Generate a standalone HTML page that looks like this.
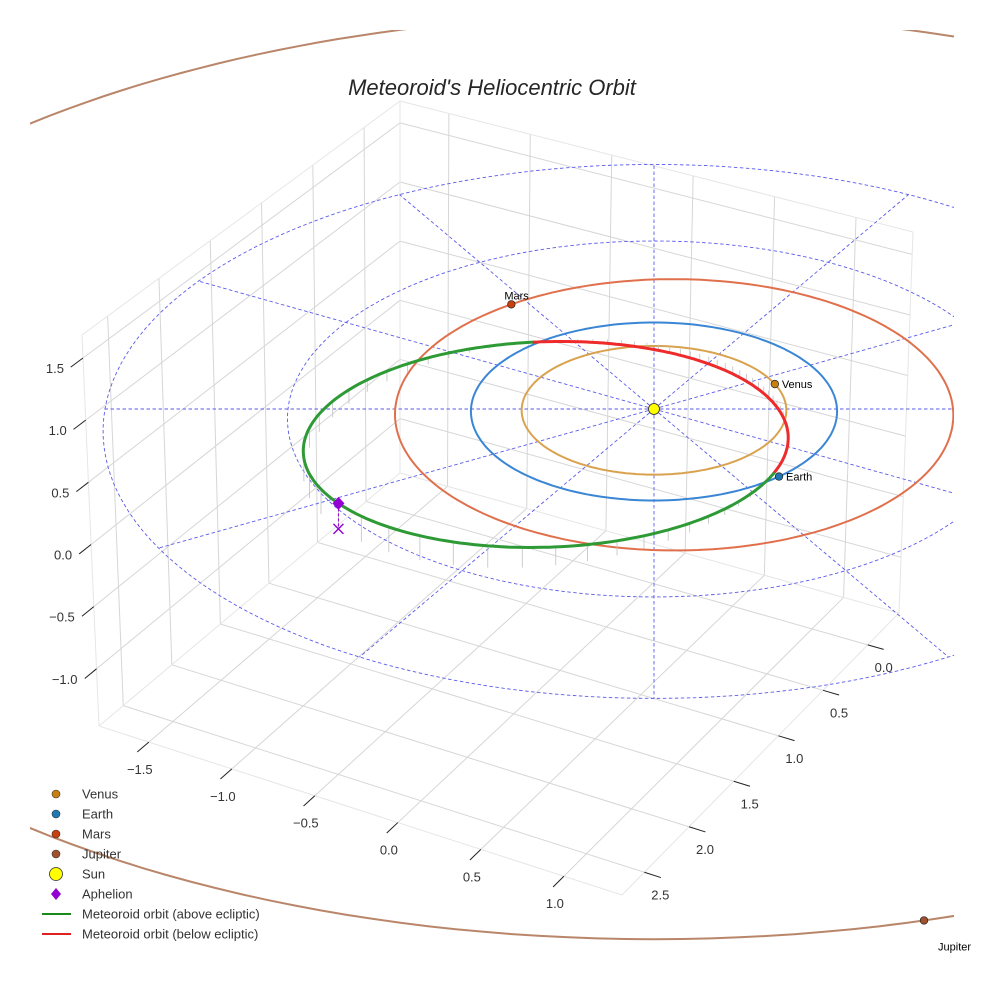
<!DOCTYPE html>
<html><head><meta charset="utf-8"><style>
html,body{margin:0;padding:0;background:#fff;}
svg{display:block;font-family:"Liberation Sans",sans-serif;}
</style></head><body>
<svg id="chart" width="984" height="984" viewBox="0 0 984 984" xmlns="http://www.w3.org/2000/svg">
<defs><clipPath id="clip"><rect x="30" y="30" width="924" height="924"/></clipPath></defs>
<rect width="984" height="984" fill="#fff"/>
<g id="grid"></g>
<g id="ticks"></g>
<g id="plot" clip-path="url(#clip)"></g>
<g id="labels"></g>
<text x="492" y="95" text-anchor="middle" font-size="22" font-style="italic" fill="#262626">Meteoroid's Heliocentric Orbit</text>
<g id="legend"></g>
</svg>
<script>
// ---- data ----
const planetNames = ["Venus","Earth","Mars","Jupiter"];
const planetRadius = [0.723, 1.0, 1.524, 5.2];
const planetAngleDeg = [-23, 48, -127, 75.6];
const orbitCenterX = [0, 0, 0.11, 0];
const guideRadii = [2, 3];
const guideSpokesDeg = [0,30,60,90,120,150,180,210,240,270,300,330];
const meteorA = 1.38, meteorE = 0.53, meteorAphelionDeg = 142, meteorNodeDeg = 48, meteorInclDeg = 5.4;
const xTicks = [-1.5,-1.0,-0.5,0.0,0.5,1.0];
const yTicks = [0.0,0.5,1.0,1.5,2.0,2.5];
const zTicks = [-1.0,-0.5,0.0,0.5,1.0,1.5];
const xTickLabels = ["\u22121.5","\u22121.0","\u22120.5","0.0","0.5","1.0"];
const yTickLabels = ["0.0","0.5","1.0","1.5","2.0","2.5"];
const zTickLabels = ["\u22121.0","\u22120.5","0.0","0.5","1.0","1.5"];

const NS="http://www.w3.org/2000/svg";
function mk(tag, attrs, parent){const e=document.createElementNS(NS,tag);for(const k in attrs)e.setAttribute(k,attrs[k]);parent.appendChild(e);return e;}

// ---- box (axes) projection ----
const XR=[-1.8,1.35], YR=[-0.35,2.75], ZR=[-1.46,1.685];
const C={ "000":[400,473],"100":[899,613],"010":[99,726],"110":[622,895],
          "001":[400,101],"101":[913,232],"011":[82,335],"111":[620,509]};
function boxPt(x,y,z){
  const u=(x-XR[0])/(XR[1]-XR[0]), v=(y-YR[0])/(YR[1]-YR[0]), w=(z-ZR[0])/(ZR[1]-ZR[0]);
  let px=0,py=0;
  for(const a of [0,1])for(const b of [0,1])for(const c of [0,1]){
    const wt=(a?u:1-u)*(b?v:1-v)*(c?w:1-w);const p=C[""+a+b+c];px+=wt*p[0];py+=wt*p[1];}
  return [px,py];
}
const grid=document.getElementById('grid');
function gl(p,q,col,wd){const l=mk('line',{x1:p[0],y1:p[1],x2:q[0],y2:q[1],stroke:col||'#d6d6d6','stroke-width':wd||1},grid);
  
  return l;}
xTicks.forEach(x=>gl(boxPt(x,YR[0],ZR[0]),boxPt(x,YR[1],ZR[0])));
yTicks.forEach(y=>gl(boxPt(XR[0],y,ZR[0]),boxPt(XR[1],y,ZR[0])));
yTicks.forEach(y=>gl(boxPt(XR[0],y,ZR[0]),boxPt(XR[0],y,ZR[1])));
zTicks.forEach(z=>gl(boxPt(XR[0],YR[0],z),boxPt(XR[0],YR[1],z)));
xTicks.forEach(x=>gl(boxPt(x,YR[0],ZR[0]),boxPt(x,YR[0],ZR[1])));
zTicks.forEach(z=>gl(boxPt(XR[0],YR[0],z),boxPt(XR[1],YR[0],z)));
[[[0,0,0],[1,0,0]],[[0,0,0],[0,1,0]],[[1,0,0],[1,1,0]],[[0,1,0],[1,1,0]],
 [[0,0,0],[0,0,1]],[[1,0,0],[1,0,1]],[[0,1,0],[0,1,1]],[[0,0,1],[1,0,1]],[[0,0,1],[0,1,1]]].forEach(e=>{
  const f=v=>boxPt(XR[v[0]],YR[v[1]],ZR[v[2]]);gl(f(e[0]),f(e[1]),'#e6e6e6',1);});

const tk=document.getElementById('ticks');
function tline(p,q){const l=mk('line',{x1:p[0],y1:p[1],x2:q[0],y2:q[1],stroke:'#222','stroke-width':1},tk);
  
  }
function tlabel(x,y,s,anchor,name){const t=mk('text',{x:x,y:y,'font-size':13,fill:'#333','text-anchor':anchor},tk);t.textContent=s;
  
  }
xTicks.forEach((x,i)=>{const p=boxPt(x,YR[1],ZR[0]);const q=boxPt(x,YR[1]+0.12,ZR[0]);tline(p,q);
  tlabel(p[0]-9,p[1]+32,xTickLabels[i],'middle','x-tick-label');});
yTicks.forEach((y,i)=>{const p=boxPt(XR[1],y,ZR[0]);const q=boxPt(XR[1]+0.1,y,ZR[0]);tline(p,q);
  tlabel(p[0]+16,p[1]+27,yTickLabels[i],'middle','y-tick-label');});
zTicks.forEach((z,i)=>{const p=boxPt(XR[0],YR[1],z);const q=boxPt(XR[0],YR[1]+0.12,z);tline(p,q);
  tlabel(p[0]-19,p[1]+15,zTickLabels[i],'end','z-tick-label');});

// ---- ecliptic projection ----
const CX=654, CY=409, SX=183, SY=89, KP=0.028, SZ=124;
function proj(X,Y,Z){const f=1+KP*Y;return [CX+SX*X*f, CY+SY*Y*f-(Z||0)*SZ*f];}
const plot=document.getElementById('plot');
const labs=document.getElementById('labels');
function pathFrom(pts){return pts.map((p,i)=>(i?'L':'M')+p[0].toFixed(1)+' '+p[1].toFixed(1)).join(' ');}
const D=Math.PI/180;

guideRadii.forEach(r=>{const pts=[];for(let a=0;a<=360;a+=2)pts.push(proj(r*Math.cos(a*D),r*Math.sin(a*D)));
  const p=mk('path',{d:pathFrom(pts),fill:'none',stroke:'#5b5bea','stroke-width':0.9,'stroke-dasharray':'3.5,2.5'},plot);
  
  });
const rMax=guideRadii[guideRadii.length-1];
guideSpokesDeg.forEach(a=>{const p0=proj(0,0),p1=proj(rMax*Math.cos(a*D),rMax*Math.sin(a*D));
  const l=mk('line',{x1:p0[0],y1:p0[1],x2:p1[0],y2:p1[1],stroke:'#5b5bea','stroke-width':0.9,'stroke-dasharray':'3.5,2.5'},plot);
  
  });

const orbitColors=['#d9a24e','#3a86d4','#e0704c','#b9866a'];
const dotColors=['#c8800f','#1f77b4','#c9400f','#a0522d'];
planetNames.forEach((n,i)=>{const pts=[];for(let a=0;a<=360;a+=1.5)pts.push(proj(orbitCenterX[i]+planetRadius[i]*Math.cos(a*D),planetRadius[i]*Math.sin(a*D)));
  const p=mk('path',{d:pathFrom(pts),fill:'none',stroke:orbitColors[i],'stroke-width':2},plot);
  
  });

const inc=meteorInclDeg*D, pAng=(meteorAphelionDeg-180)*D, pSemi=meteorA*(1-meteorE*meteorE);
function meteor(nu){const r=pSemi/(1+meteorE*Math.cos(nu));const th=pAng+nu;
  return {X:r*Math.cos(th),Y:r*Math.sin(th),Z:r*Math.sin(inc)*Math.sin(th-meteorNodeDeg*D)};}
for(let nu=0;nu<360;nu+=5){const m=meteor(nu*D);const a=proj(m.X,m.Y,m.Z),b=proj(m.X,m.Y,0);
  const l=mk('line',{x1:a[0],y1:a[1],x2:b[0],y2:b[1],stroke:'#c0c0c0','stroke-width':0.8},plot);
  
  }
let segs=[],cur=null;
for(let nu=0;nu<=360;nu+=1){const m=meteor(nu*D);const up=m.Z>=0;const p=proj(m.X,m.Y,m.Z);
  if(!cur||cur.up!==up){if(cur)cur.pts.push(p);cur={up:up,pts:[p]};segs.push(cur);}else cur.pts.push(p);}
segs.forEach(s=>{const p=mk('path',{d:pathFrom(s.pts),fill:'none',stroke:s.up?'#2e9a35':'#ee2a2a','stroke-width':3,'stroke-linecap':'round'},plot);
  
  });

const ap=meteor(Math.PI);const apP=proj(ap.X,ap.Y,ap.Z),apF=proj(ap.X,ap.Y,0);
const al=mk('line',{x1:apP[0],y1:apP[1],x2:apF[0],y2:apF[1],stroke:'#9400d3','stroke-width':1,'stroke-dasharray':'3,2'},plot);


const ax=mk('path',{d:`M${apF[0]-5} ${apF[1]-5}L${apF[0]+5} ${apF[1]+5}M${apF[0]-5} ${apF[1]+5}L${apF[0]+5} ${apF[1]-5}`,stroke:'#9400d3','stroke-width':1.4,fill:'none'},plot);


const ad=mk('path',{d:`M${apP[0]} ${apP[1]-6.5}L${apP[0]+6} ${apP[1]}L${apP[0]} ${apP[1]+6.5}L${apP[0]-6} ${apP[1]}Z`,fill:'#9400d3'},plot);



const labelOff=[[7,4],[7,4],[-7,-5],[14,30]];
planetNames.forEach((n,i)=>{const a=planetAngleDeg[i]*D;const p=proj(orbitCenterX[i]+planetRadius[i]*Math.cos(a),planetRadius[i]*Math.sin(a));
  const c=mk('circle',{cx:p[0],cy:p[1],r:3.8,fill:dotColors[i],stroke:'#222','stroke-width':0.7},plot);
  
  
  const t=mk('text',{x:p[0]+labelOff[i][0],y:p[1]+labelOff[i][1],'font-size':11,fill:'#000'},labs);t.textContent=n;
  
  });
const sp=proj(0,0);
const sc=mk('circle',{cx:sp[0],cy:sp[1],r:5.5,fill:'#ffff00',stroke:'#222','stroke-width':0.8},plot);



const lg=document.getElementById('legend');
const legItems=[["Venus","dot","#c8800f"],["Earth","dot","#1f77b4"],["Mars","dot","#c9400f"],["Jupiter","dot","#a0522d"],
 ["Sun","sun","#ffff00"],["Aphelion","diamond","#9400d3"],["Meteoroid orbit (above ecliptic)","line","#1a8a1a"],["Meteoroid orbit (below ecliptic)","line","#e02020"]];
legItems.forEach((it,i)=>{const y=794+i*20;const g=mk('g',{},lg);
  
  
  if(it[1]==='dot')mk('circle',{cx:56,cy:y,r:4,fill:it[2],stroke:'#333','stroke-width':0.6},g);
  else if(it[1]==='sun')mk('circle',{cx:56,cy:y,r:6.5,fill:it[2],stroke:'#333','stroke-width':0.8},g);
  else if(it[1]==='diamond')mk('path',{d:`M56 ${y-6}L61 ${y}L56 ${y+6}L51 ${y}Z`,fill:it[2]},g);
  else mk('line',{x1:42,y1:y,x2:71,y2:y,stroke:it[2],'stroke-width':2},g);
  const t=mk('text',{x:82,y:y+4.5,'font-size':13,fill:'#333'},g);t.textContent=it[0];});
</script>
</body></html>
